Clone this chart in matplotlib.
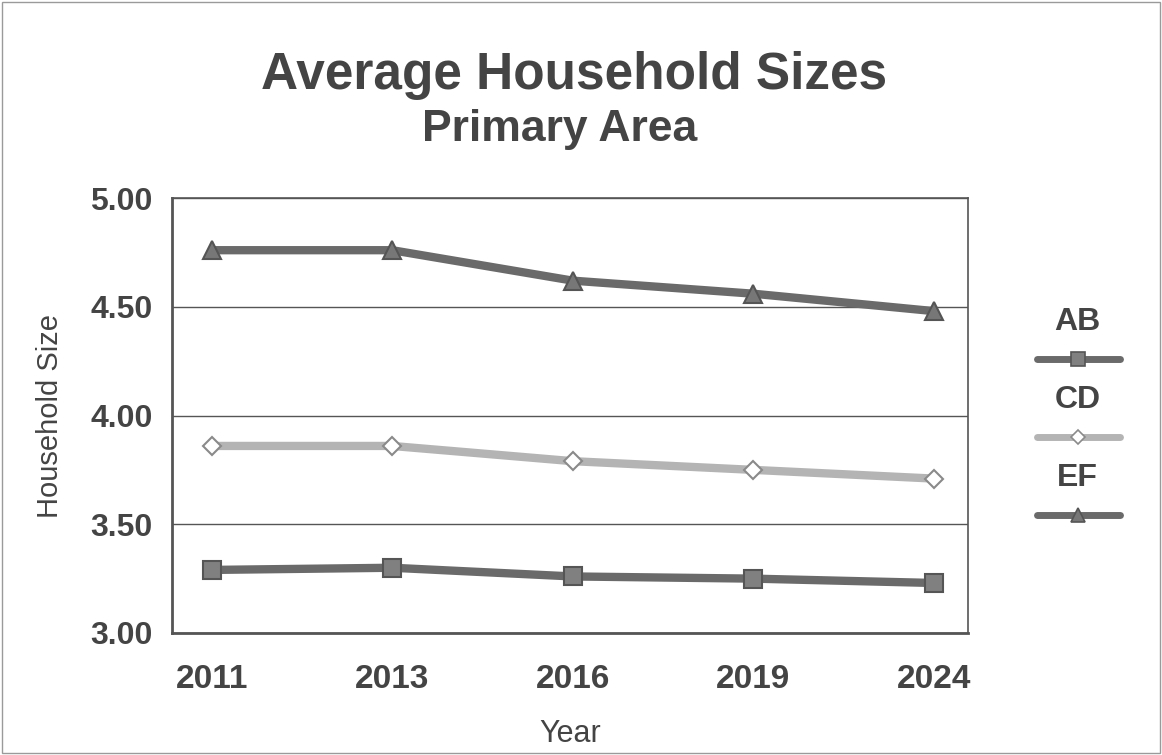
import matplotlib.pyplot as plt
from matplotlib.lines import Line2D
from matplotlib.patches import Rectangle

plt.rcParams['font.family'] = ['Liberation Sans', 'DejaVu Sans']

years = ['2011', '2013', '2016', '2019', '2024']
ab = [3.29, 3.30, 3.26, 3.25, 3.23]
cd = [3.86, 3.86, 3.79, 3.75, 3.71]
ef = [4.76, 4.76, 4.62, 4.56, 4.48]
series_names = ['AB', 'CD', 'EF']

txt = '#444444'
dark = '#6a6a6a'
light = '#b4b4b4'

fig = plt.figure(figsize=(11.62, 7.55), dpi=100)
fig.patches.append(Rectangle((0.002, 0.002), 0.996, 0.996, transform=fig.transFigure,
                             fill=False, edgecolor='#9a9a9a', lw=1.0))

ax = fig.add_axes([172 / 1162, 1 - 633 / 755, (968 - 172) / 1162, (633 - 198) / 755])
x = range(len(years))

styles = [
    dict(color=dark, marker='s', ms=13, mfc='#808080', mec='#555555', mew=1.5),
    dict(color=light, marker='D', ms=9, mfc='white', mec='#8a8a8a', mew=1.5),
    dict(color=dark, marker='^', ms=13, mfc='#777777', mec='#555555', mew=1.5),
]
for vals, st in zip([ab, cd, ef], styles):
    ax.plot(x, vals, lw=6, solid_capstyle='butt', zorder=3, **st)

ax.set_ylim(3.0, 5.0)
ax.set_yticks([3.0, 3.5, 4.0, 4.5, 5.0])
ax.set_yticklabels(['%.2f' % v for v in [3.0, 3.5, 4.0, 4.5, 5.0]])
ax.set_xlim(-0.22, 4.19)
ax.set_xticks(list(x))
ax.set_xticklabels(years)
ax.grid(axis='y', color='#555555', lw=1.0)
ax.set_axisbelow(True)
for s in ax.spines.values():
    s.set_color('#555555')
    s.set_linewidth(1.2)
ax.spines['left'].set_linewidth(2)
ax.spines['bottom'].set_linewidth(2)
ax.tick_params(axis='y', length=0, pad=14, colors=txt)
ax.tick_params(axis='x', length=0, pad=22, colors=txt)
for lab in ax.get_yticklabels():
    lab.set_fontsize(23)
    lab.set_fontweight('bold')
for lab in ax.get_xticklabels():
    lab.set_fontsize(24)
    lab.set_fontweight('bold')
ax.set_ylabel('Household Size', fontsize=21, color=txt)
ax.yaxis.set_label_coords(-108 / 796, 0.5)
ax.set_xlabel('Year', fontsize=22, color=txt)
ax.xaxis.set_label_coords(0.5, -86 / 435)

fig.text(574 / 1162, 1 - 75 / 755, 'Average Household Sizes', ha='center', va='center',
         fontsize=37, fontweight='bold', color=txt)
fig.text(560 / 1162, 1 - 129 / 755, 'Primary Area', ha='center', va='center',
         fontsize=32, fontweight='bold', color=txt)

# legend: label above a short line sample
lax = fig.add_axes([1030 / 1162, 1 - 560 / 755, 95 / 1162, 260 / 755])
lax.set_xlim(0, 1)
lax.set_ylim(0, 260)
lax.axis('off')
for i, (name, st) in enumerate(zip(series_names, styles)):
    yl = 260 - 22 - 78 * i
    lax.text(0.5, yl, name, ha='center', va='center', fontsize=23, fontweight='bold', color=txt)
    lax.add_line(Line2D([0.07, 0.95], [yl - 37] * 2, lw=5, solid_capstyle='round',
                        color=st['color']))
    lax.add_line(Line2D([0.5], [yl - 37], marker=st['marker'], ms=st['ms'] * 0.75,
                        mfc=st['mfc'], mec=st['mec'], mew=1.2, ls='none'))

fig.savefig('out.png', dpi=100)
